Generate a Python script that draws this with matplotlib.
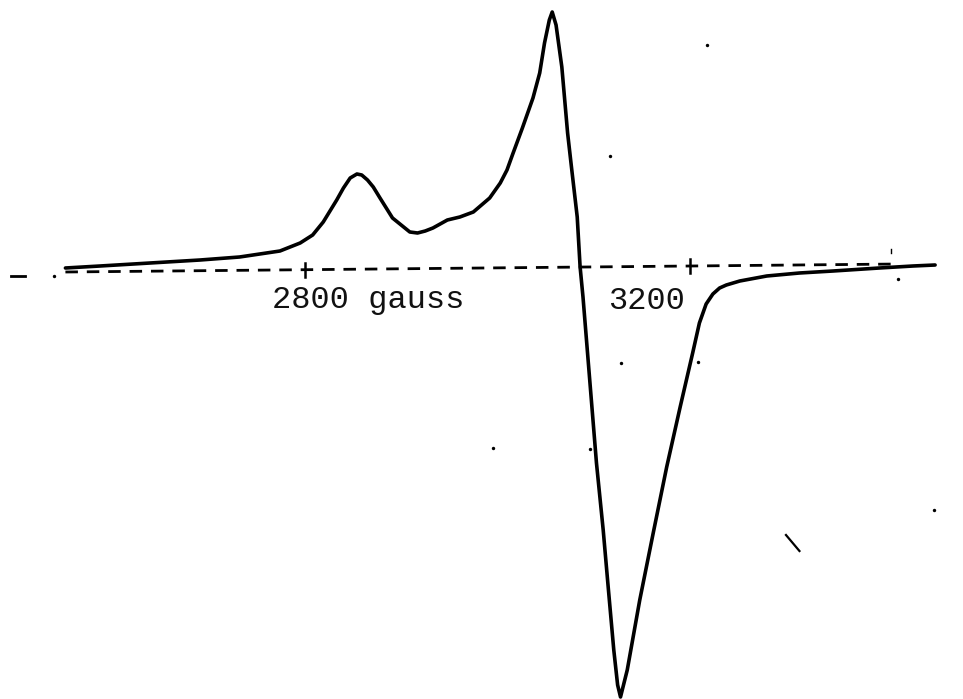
import matplotlib
matplotlib.use("Agg")
import matplotlib.pyplot as plt

# EPR derivative spectrum (field in gauss, signal in arbitrary units)
gauss = [2551, 2587, 2639, 2691, 2732, 2774, 2795, 2808, 2819, 2833,
         2840, 2847, 2854, 2859, 2865, 2871, 2878, 2891, 2909, 2917,
         2925, 2933, 2948, 2961, 2975, 2992, 3003, 3010, 3016, 3026,
         3037, 3044, 3049, 3054, 3057, 3061, 3067, 3073, 3077, 3083,
         3086, 3089, 3096, 3103, 3110, 3115, 3121, 3125, 3128, 3135,
         3148, 3162, 3176, 3190, 3203, 3210, 3217, 3224, 3231, 3238,
         3252, 3280, 3314, 3349, 3397, 3432, 3455]
signal = [0, 2, 5, 8, 11, 17, 25, 33, 46, 68,
          80, 90, 94, 93, 88, 81, 70, 50, 36, 35,
          37, 40, 48, 51, 56, 70, 85, 98, 114, 140,
          170, 195, 225, 248, 256, 243, 201, 135, 101, 51,
          1, -29, -112, -195, -262, -317, -382, -417, -429, -402,
          -332, -265, -199, -139, -85, -55, -36, -26, -20, -17,
          -13, -8, -5, -3, 0, 2, 3]

# dashed baseline
base_g = [2551, 3418]
base_s = [-4, 4]
lead_g = [2494, 2509]
lead_s = [-8, -8]

# tick marks on the baseline
tick_g = [2800, 3200]
tick_s = [-1.7, 2.0]
tick_labels = ["2800 gauss", "3200"]
label_g = [2766, 3115]
label_s = [-32, -33]

# stray specks on the scanned chart
speck_g = [3218, 3117, 3128, 3209, 3096, 2995, 3454, 3416, 2539]
speck_s = [223, 112, -95, -94, -181, -180, -242, -11, -8]
slash_g = [3300, 3314]
slash_s = [-267, -283]

fig = plt.figure(figsize=(9.63, 6.99), dpi=100)
ax = fig.add_axes([0, 0, 1, 1])
ax.set_xlim(2483, 3484)
ax.set_ylim(-431, 268)
ax.axis("off")

ax.plot(base_g, base_s, color="black", lw=2.0, ls=(0, (4.5, 3.2)))
ax.plot(lead_g, lead_s, color="black", lw=2.0)
for g, s in zip(tick_g, tick_s):
    ax.plot([g, g], [s - 7, s + 7], color="black", lw=1.8)

ax.plot(gauss, signal, color="black", lw=2.6,
        solid_joinstyle="round", solid_capstyle="round")

for txt, g, s in zip(tick_labels, label_g, label_s):
    ax.text(g, s, txt, ha="left", va="center", fontsize=23,
            family="Liberation Mono", color="#111111")

ax.scatter(speck_g, speck_s, s=6, color="black", linewidths=0)
ax.plot(slash_g, slash_s, color="black", lw=1.6)
ax.plot([3409, 3409], [15, 19], color="black", lw=1.0)

fig.savefig("out.png", dpi=100)
